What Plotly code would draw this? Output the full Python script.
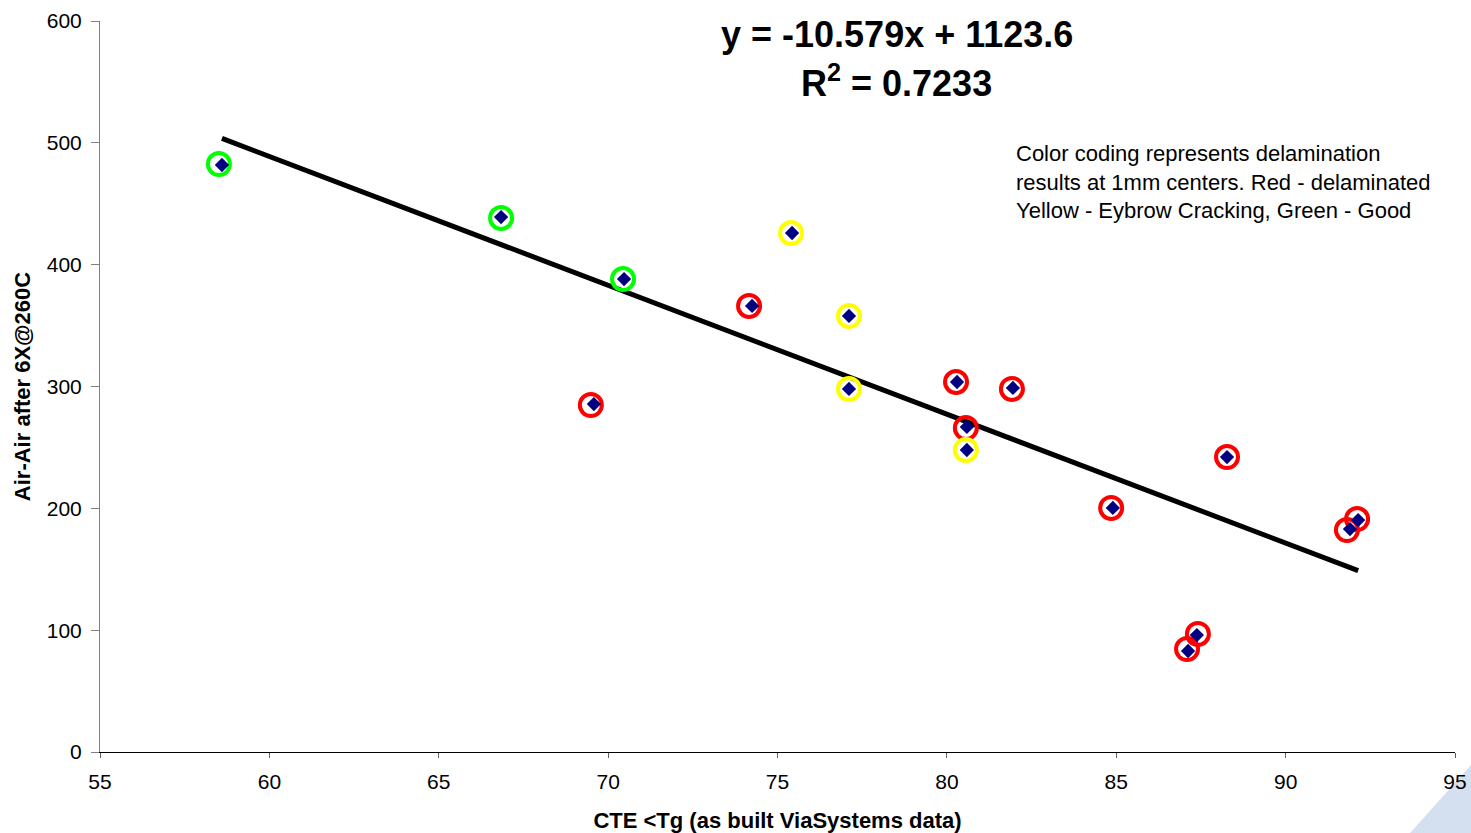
import plotly.graph_objects as go
import numpy as np

# Data points (diamonds)
cte = [58.6, 66.84, 70.47, 69.58, 74.25, 75.43, 77.11, 77.11, 80.30, 80.59,
       80.59, 81.95, 84.90, 87.12, 87.38, 88.27, 91.90, 92.14]
air = [481.8, 439.1, 388.2, 285.6, 366.1, 426.0, 357.9, 298.0, 303.7, 266.8,
       247.9, 298.8, 200.3, 82.9, 96.0, 242.1, 183.0, 190.4]

# Colour-coding circles (overlay, slightly offset as drawn)
circ_x = [58.51, 66.84, 70.44, 69.49, 74.16, 75.40, 77.11, 77.11, 80.27, 80.56,
          80.56, 81.92, 84.85, 87.09, 87.41, 88.27, 91.81, 92.11]
circ_y = [482.6, 438.3, 388.2, 284.8, 366.1, 426.0, 357.9, 298.0, 303.7, 265.9,
          247.9, 298.0, 200.3, 84.5, 96.9, 242.1, 182.2, 191.2]
circ_cls = ["Green", "Green", "Green", "Red", "Red", "Yellow", "Yellow", "Yellow", "Red", "Red",
            "Yellow", "Red", "Red", "Red", "Red", "Red", "Red", "Red"]
cls_color = {"Red": "#FF0000", "Yellow": "#FFFF00", "Green": "#00FF00"}

slope, intercept, r2 = -10.579, 1123.6, 0.7233
x_ticks = [55, 60, 65, 70, 75, 80, 85, 90, 95]
y_ticks = [0, 100, 200, 300, 400, 500, 600]

fig = go.Figure()

# trend line
tx = np.array([min(cte), max(cte)])
fig.add_trace(go.Scatter(x=tx, y=slope * tx + intercept, mode="lines",
                         line=dict(color="black", width=5), showlegend=False,
                         hoverinfo="skip"))

# circles
fig.add_trace(go.Scatter(x=circ_x, y=circ_y, mode="markers",
                         marker=dict(symbol="circle-open", size=22,
                                     color=[cls_color[c] for c in circ_cls],
                                     line=dict(width=4)),
                         showlegend=False))

# diamonds
fig.add_trace(go.Scatter(x=cte, y=air, mode="markers",
                         marker=dict(symbol="diamond", size=11, color="#000080",
                                     line=dict(width=0)),
                         showlegend=False))

font = "Liberation Sans, Arial, sans-serif"
fig.update_layout(
    width=1471, height=833,
    margin=dict(l=100, r=16, t=21, b=81),
    paper_bgcolor="white", plot_bgcolor="white",
    font=dict(family=font, size=21, color="black"),
    xaxis=dict(range=[55, 95], tickvals=x_ticks, showgrid=False, zeroline=False,
               automargin=False,
               showline=True, linecolor="black", linewidth=1,
               ticks="outside", ticklen=5, tickcolor="#606060",
               tickfont=dict(size=21), ticklabelstandoff=6,
               title=dict(text="<b>CTE <Tg (as built ViaSystems data)</b>",
                          font=dict(size=22), standoff=22)),
    yaxis=dict(range=[0, 600], tickvals=y_ticks, showgrid=False, zeroline=False,
               automargin=False,
               showline=True, linecolor="#808080", linewidth=1,
               ticks="outside", ticklen=8, tickcolor="#808080",
               tickfont=dict(size=21), ticklabelstandoff=5,
               title=dict(text="<b>Air-Air after 6X@260C</b>",
                          font=dict(size=22), standoff=10)),
    annotations=[
        dict(x=0.588, y=0.982, xref="paper", yref="paper", xanchor="center", yanchor="middle",
             text=f"<b>y = {slope}x + {intercept}</b>", showarrow=False,
             font=dict(size=36, family=font)),
        dict(x=0.588, y=0.918, xref="paper", yref="paper", xanchor="center", yanchor="middle",
             text=f"<b>R<sup>2</sup> = {r2}</b>", showarrow=False,
             font=dict(size=36, family=font)),
        dict(x=0.6745, y=0.780, xref="paper", yref="paper", xanchor="left", yanchor="middle",
             align="left",
             text="Color coding represents delamination<br>results at 1mm centers. Red - delaminated<br>Yellow - Eybrow Cracking, Green - Good",
             showarrow=False, font=dict(size=22, family=font)),
    ],
    shapes=[dict(type="path", xref="paper", yref="paper",
                 path="M 0.9668 -0.1108 L 1.0118 -0.0178 L 1.0118 -0.1108 Z",
                 fillcolor="rgba(205,218,236,0.85)", line=dict(width=0), layer="below")],
)

fig.write_html("out.html", config={"displayModeBar": False},
               post_script="document.body.style.margin='0';document.body.style.overflow='hidden';")
